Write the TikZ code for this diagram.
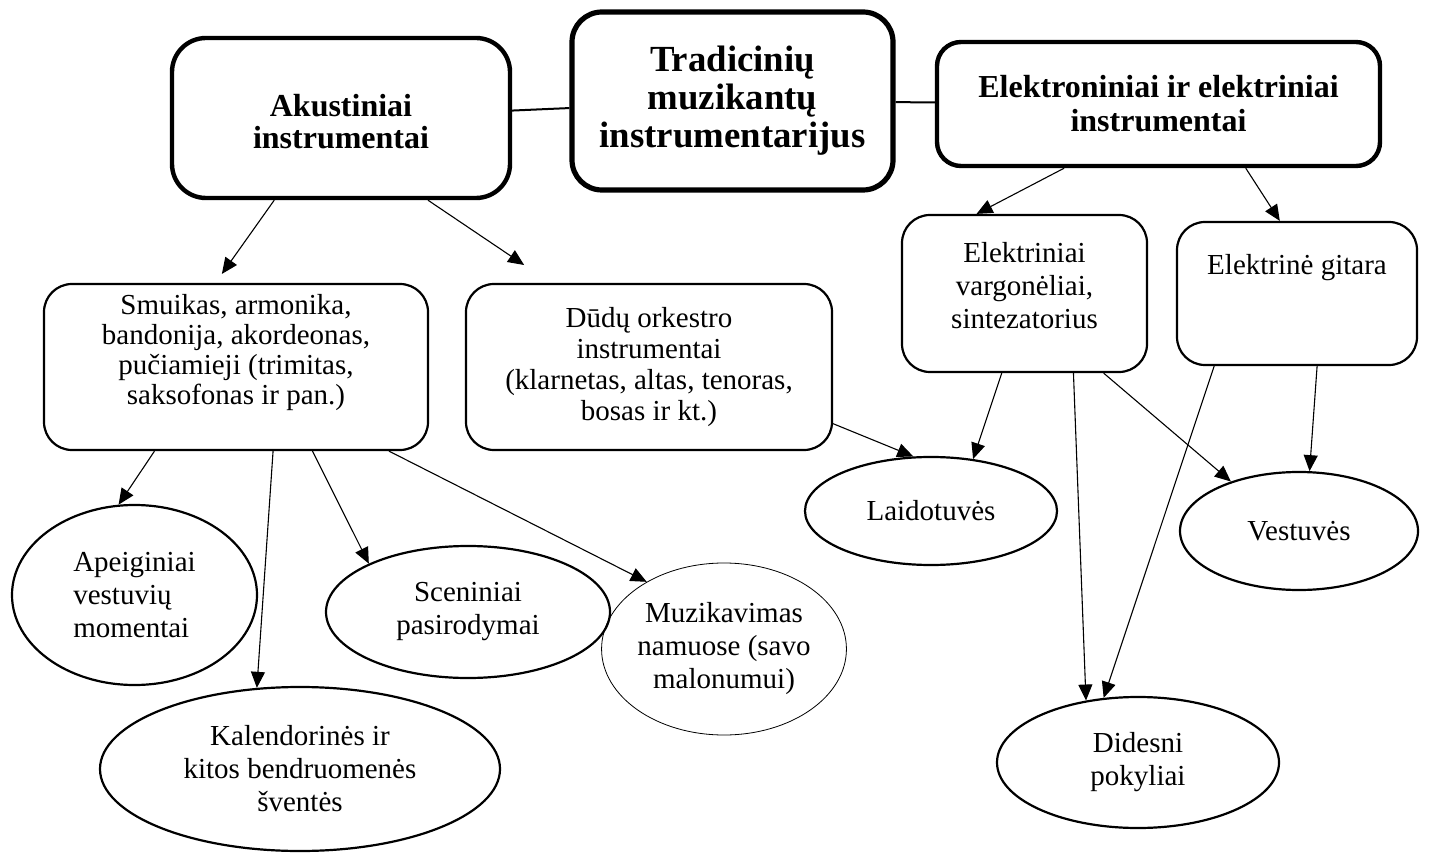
\documentclass[tikz,border=0pt]{standalone}
\usepackage{fontspec}
\setmainfont{Liberation Serif}
\usetikzlibrary{shapes.geometric,arrows.meta,calc}
\begin{document}
\begin{tikzpicture}[x=0.5pt,y=-0.5pt,
  bigbox/.style={draw, rounded corners=15pt, line width=2.2pt, inner sep=0pt, align=center},
  box/.style={draw, rounded corners=14pt, line width=1.1pt, inner sep=0pt, align=center},
  oval/.style={draw, ellipse, line width=1.1pt, inner sep=0pt},
  txt/.style={inner sep=0pt, align=center},
  arr/.style={-{Triangle[length=8pt,width=7pt]}, line width=0.55pt},
  link/.style={line width=1pt},
  fa/.style={font=\fontsize{14.5}{15}\selectfont},
  fb/.style={font=\fontsize{14.5}{15.5}\selectfont},
  fc/.style={font=\fontsize{14.5}{16.5}\selectfont}]
\useasboundingbox (0,0) rectangle (1429,855);

% top level boxes
\node[bigbox, line width=2.6pt, minimum width=160.5pt, minimum height=89pt,
      font=\bfseries\fontsize{18.4}{19}\selectfont] (title) at (732.5,101)
      {Tradicinių\\muzikantų\\instrumentarijus};
\node[bigbox, rounded corners=17pt, minimum width=169pt, minimum height=80pt] (akust) at (341,118) {};
\node[txt, font=\bfseries\fontsize{16}{16}\selectfont] (akust-t) at (341,122)
      {Akustiniai\\instrumentai};
\node[bigbox, rounded corners=12pt, minimum width=221.5pt, minimum height=62pt,
      font=\bfseries\fontsize{16}{17}\selectfont] (elek) at (1158.5,104)
      {Elektroniniai ir elektriniai\\instrumentai};

% second level boxes
\node[box, minimum width=192pt, minimum height=83pt] (smuikas) at (236,367) {};
\node[txt, fa] (smuikas-t) at (236,353)
      {Smuikas, armonika,\\bandonija, akordeonas,\\pučiamieji (trimitas,\\saksofonas ir pan.)};
\node[box, fb, minimum width=183pt, minimum height=83pt] (dudu) at (649,367)
      {Dūdų orkestro\\instrumentai\\(klarnetas, altas, tenoras,\\bosas ir kt.)};
\node[box, minimum width=122.5pt, minimum height=78.5pt] (varg) at (1024.5,293.5) {};
\node[txt, fc] (varg-t) at (1024.5,286) {Elektriniai\\vargonėliai,\\sintezatorius};
\node[box, minimum width=120pt, minimum height=71.5pt] (gitara) at (1297,293.5) {};
\node[txt, fa] (gitara-t) at (1297,268) {Elektrinė gitara};

% ellipses
\node[oval, fc, align=left, minimum width=122.5pt, minimum height=90pt] (apeig) at (134.5,595)
      {Apeiginiai\\vestuvių\\momentai};
\node[oval, fc, align=center, minimum width=200pt, minimum height=82pt] (kalend) at (300,769)
      {Kalendorinės ir\\kitos bendruomenės\\šventės};
\node[oval, fc, align=center, minimum width=142pt, minimum height=66pt] (scen) at (468,612)
      {Sceniniai\\pasirodymai};
\node[oval, fc, align=center, line width=0.4pt, minimum width=114pt, minimum height=86pt] (muzik) at (724,649)
      {Muzikavimas\\namuose (savo\\malonumui)};
\node[oval, fa, minimum width=126pt, minimum height=54pt] (laid) at (931,511) {Laidotuvės};
\node[oval, fa, minimum width=119pt, minimum height=59pt] (vest) at (1299,531) {Vestuvės};
\node[oval, fc, align=center, minimum width=141pt, minimum height=65.5pt] (didesni) at (1138,762.5)
      {Didesni\\pokyliai};

% links between top boxes
\draw[link] (akust) -- (title);
\draw[link] (title) -- (elek);

% arrows
\draw[arr, shorten >=5.5pt] ($(akust.south west)!0.305!(akust.south east)$) -- ($(smuikas.north west)!0.447!(smuikas.north east)$);
\draw[arr, shorten >=16pt] ($(akust.south west)!0.754!(akust.south east)$) -- ($(dudu.north west)!0.233!(dudu.north east)$);
\draw[arr] ($(elek.south west)!0.289!(elek.south east)$) -- ($(varg.north west)!0.306!(varg.north east)$);
\draw[arr] ($(elek.south west)!0.695!(elek.south east)$) -- ($(gitara.north west)!0.429!(gitara.north east)$);

\draw[arr] ($(smuikas.south west)!0.289!(smuikas.south east)$) -- (apeig.100);
\draw[arr] ($(smuikas.south west)!0.596!(smuikas.south east)$) -- (kalend.118);
\draw[arr] ($(smuikas.south west)!0.698!(smuikas.south east)$) -- (scen.154);
\draw[arr] ($(smuikas.south west)!0.896!(smuikas.south east)$) -- (muzik.139);

\draw[arr] ($(dudu.north east)!0.837!(dudu.south east)$) -- (laid.108);
\draw[arr] ($(varg.south west)!0.408!(varg.south east)$) -- (laid.51);
\draw[arr] ($(varg.south west)!0.698!(varg.south east)$) -- (didesni.130);
\draw[arr] ($(varg.south west)!0.820!(varg.south east)$) -- (vest.144);
\draw[arr] ($(gitara.south west)!0.158!(gitara.south east)$) -- (didesni.118);
\draw[arr] ($(gitara.south west)!0.583!(gitara.south east)$) -- (vest.80);
\end{tikzpicture}
\end{document}
